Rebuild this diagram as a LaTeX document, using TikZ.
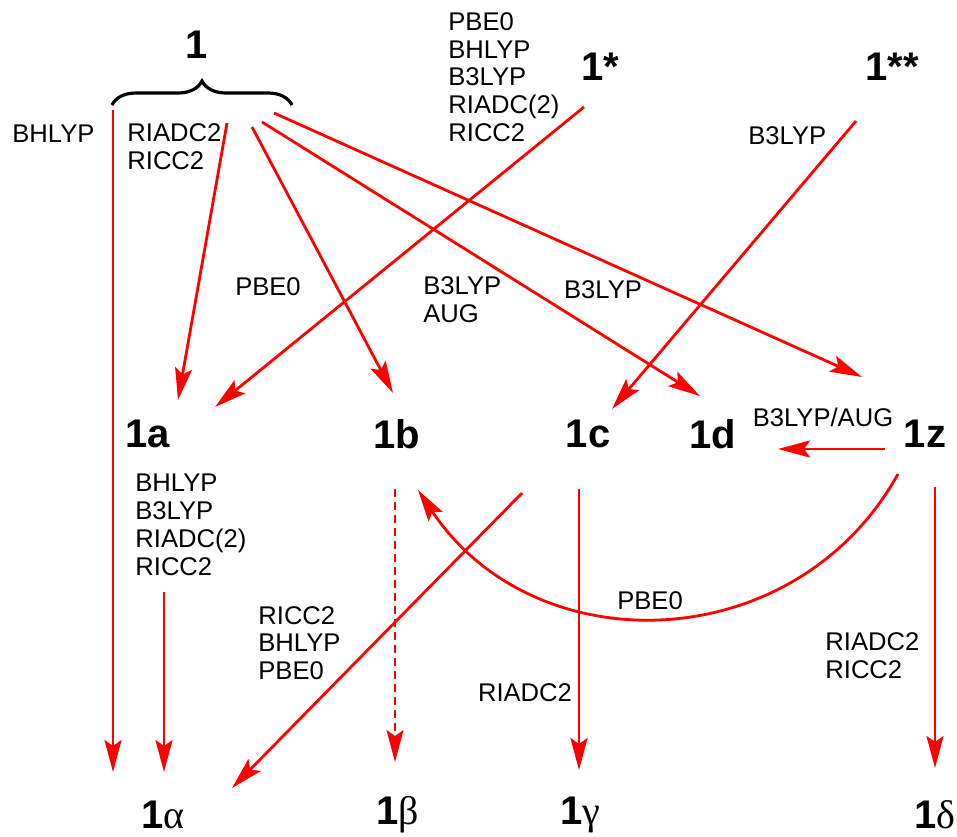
\documentclass[tikz,border=0pt]{standalone}
\usepackage{fontspec}
\setmainfont{Liberation Sans}
\newfontfamily\greekfont{Liberation Serif}
\usetikzlibrary{arrows.meta}
\usetikzlibrary{decorations.pathreplacing}

\tikzset{
  species/.style={font=\fontsize{20}{24}\selectfont\bfseries, inner sep=0pt},
  product/.style={font=\fontsize{20}{24}\selectfont, inner sep=0pt},
  method/.style={font=\fontsize{12.8}{13.9}\selectfont, align=left, inner sep=0pt, anchor=west},
  conv/.style={draw=red, line width=1.4pt, -{Stealth[length=16pt,width=8.5pt,inset=3pt]}},
  weakconv/.style={conv, line width=0.6pt, dash pattern=on 4pt off 2.5pt},
}
\newcommand\prodlabel[1]{{\bfseries 1}{\greekfont #1}}

\begin{document}
\begin{tikzpicture}[x=0.5pt, y=-0.5pt]
  \useasboundingbox (0,0) rectangle (957,836);

  % species
  \node[species] (n1)   at (197,45)  {1};
  \node[species] (n1s)  at (600,67)  {1*};
  \node[species] (n1ss) at (892,67)  {1**};
  \node[species] (n1a)  at (148,434) {1a};
  \node[species] (n1b)  at (397,434) {1b};
  \node[species] (n1c)  at (588,434) {1c};
  \node[species] (n1d)  at (713,434) {1d};
  \node[species] (n1z)  at (925,434) {1z};

  % products
  \node[product] (n1al) at (163,815) {\prodlabel{α}};
  \node[product] (n1be) at (398,815) {\prodlabel{β}};
  \node[product] (n1ga) at (580,815) {\prodlabel{γ}};
  \node[product] (n1de) at (935,815) {\prodlabel{δ}};

  % brace over the conformers of 1
  \draw[line width=1.6pt, decorate, decoration={brace, amplitude=12pt}]
        (112,105) coordinate (brl) -- (292,105) coordinate (brr);

  % methods
  \node[method] (mbh)   at (12,134)  {BHLYP};
  \node[method] (mri)   at (127,147) {RIADC2\\RICC2};
  \node[method] (mstar) at (448,77)  {PBE0\\BHLYP\\B3LYP\\RIADC(2)\\RICC2};
  \node[method] (mss)   at (748,136) {B3LYP};
  \node[method, anchor=center] (mpbe)  at (268,287) {PBE0};
  \node[method] (maug)  at (423,300) {B3LYP\\AUG};
  \node[method, anchor=center] (mb3)   at (603,290) {B3LYP};
  \node[method, anchor=center] (mzd)   at (823,417) {B3LYP/AUG};
  \node[method] (ma)    at (135,525) {BHLYP\\B3LYP\\RIADC(2)\\RICC2};
  \node[method] (mc)    at (258,643) {RICC2\\BHLYP\\PBE0};
  \node[method, anchor=center] (marc)  at (650,601) {PBE0};
  \node[method, anchor=center] (mcg)   at (525,693) {RIADC2};
  \node[method] (mzd2)  at (825,656) {RIADC2\\RICC2};

  % end points of the conversions
  \coordinate (s1al) at (113,110);  \coordinate (e1al) at (113,772);
  \coordinate (s1a)  at (227,123);  \coordinate (e1a)  at (178,400);
  \coordinate (s1b)  at (252,127);  \coordinate (e1b)  at (393,393);
  \coordinate (s1d)  at (262,122);  \coordinate (e1d)  at (700,396);
  \coordinate (s1z)  at (274,113);  \coordinate (e1z)  at (862,377);
  \coordinate (s1s)  at (584,107);  \coordinate (e1sa) at (215,407);
  \coordinate (s1ss) at (856,121);  \coordinate (e1ssc) at (612,409);
  \coordinate (szd)  at (885,449);  \coordinate (ezd)  at (778,449);
  \coordinate (szb)  at (898,474);  \coordinate (ezb)  at (418,490);
  \coordinate (sa)   at (164,592);  \coordinate (ea)   at (164,772);
  \coordinate (sb)   at (395,489);  \coordinate (eb)   at (395,762);
  \coordinate (sca)  at (522,493);  \coordinate (eca)  at (232,788);
  \coordinate (scg)  at (579,489);  \coordinate (ecg)  at (579,770);
  \coordinate (szde) at (935,487);  \coordinate (ezde) at (935,768);

  % conversions
  \draw[conv] (s1al) -- (e1al);
  \draw[conv] (s1a) -- (e1a);
  \draw[conv] (s1b) -- (e1b);
  \draw[conv] (s1d) -- (e1d);
  \draw[conv] (s1z) -- (e1z);
  \draw[conv] (s1s) -- (e1sa);
  \draw[conv] (s1ss) -- (e1ssc);
  \draw[conv] (szd) -- (ezd);
  \draw[conv] (szb) .. controls (795.5,658.4) and (534.7,665.8) .. (ezb);
  \draw[conv] (sa) -- (ea);
  \draw[weakconv] (sb) -- (eb);
  \draw[conv] (sca) -- (eca);
  \draw[conv] (scg) -- (ecg);
  \draw[conv] (szde) -- (ezde);
\end{tikzpicture}
\end{document}
